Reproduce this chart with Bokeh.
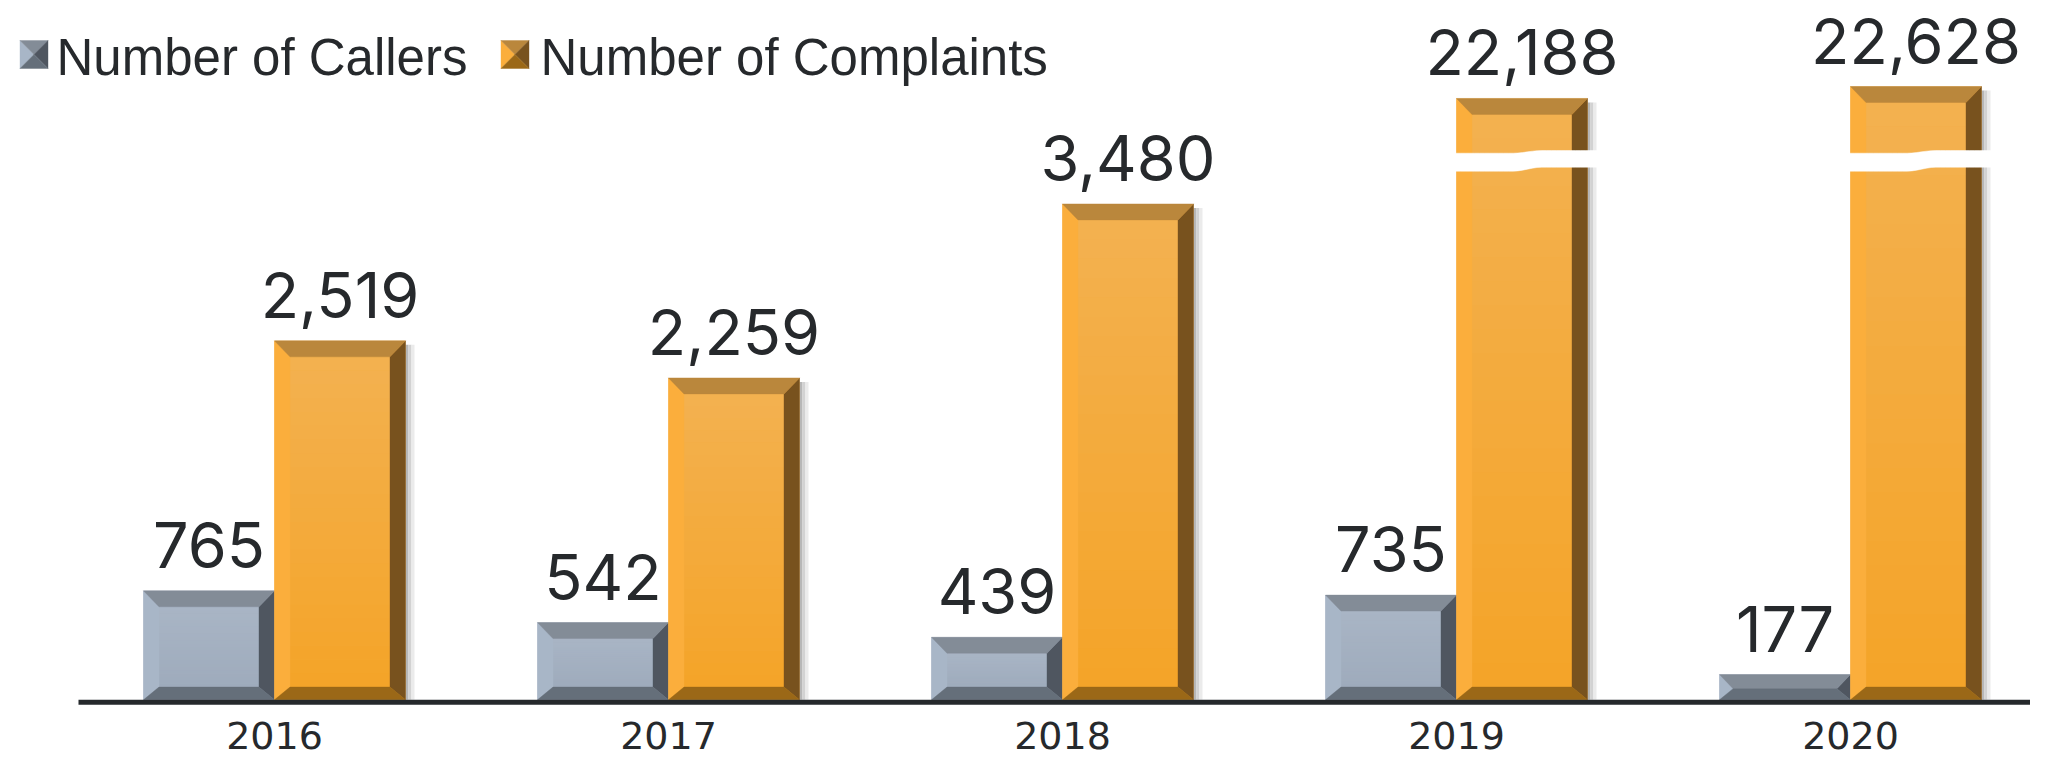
import numpy as np
from bokeh.plotting import figure
from bokeh.models import Range1d, ColumnDataSource, LabelSet
from bokeh.core.properties import value
from bokeh.embed import file_html
from bokeh.resources import INLINE

# ---------------- data ----------------
years = ["2016", "2017", "2018", "2019", "2020"]
callers = [765, 542, 439, 735, 177]
complaints = [2519, 2259, 3480, 22188, 22628]
series_names = ["Number of Callers", "Number of Complaints"]

# ---------------- layout constants (pixels) ----------------
FIG_W, FIG_H = 2030, 757
PX_PER_CAT = 394.0          # width of one year group
FIRST_CENTER_PX = 274.0     # pixel x of first group centre
PPU = 0.1425                # pixels per value unit
ZERO_PX = 699.3             # pixel y of the zero line
BAR_W = 131.0 / PX_PER_CAT  # bar width in category units

BREAK_THRESHOLD = 5000      # values above are drawn on a broken axis
UPPER_SCALE = 0.1902        # compression of the broken part

BX_PX, BT_PX, BB_PX = 15.5, 16.0, 12.7   # bevel sizes
TEXT_COLOR = "#26292c"

x_start = 0.5 - FIRST_CENTER_PX / PX_PER_CAT
x_end = x_start + FIG_W / PX_PER_CAT


def X(px):  # pixel -> data x
    return x_start + px / PX_PER_CAT


def Y(py):  # pixel -> data y
    return (ZERO_PX - py) / PPU


y_start, y_end = Y(FIG_H), Y(0)


def disp(v):
    return v if v <= BREAK_THRESHOLD else v * UPPER_SCALE


def hexrgb(h):
    h = h.lstrip("#")
    return tuple(int(h[i:i + 2], 16) for i in (0, 2, 4))


def mix(c1, c2, t):
    a, b = hexrgb(c1), hexrgb(c2)
    return "#%02x%02x%02x" % tuple(int(round(a[i] + (b[i] - a[i]) * t)) for i in range(3))


STYLES = {
    "callers": dict(top="#838c97", right="#4f5660", bottom="#656f7a", left="#a8b6c7",
                    face_top="#a9b5c5", face_bot="#9eabbc", shadow=False),
    "complaints": dict(top="#ba873c", right="#78521e", bottom="#9b6817", left="#fbae3c",
                       face_top="#f3b150", face_bot="#f4a428", shadow=True),
}

p = figure(width=FIG_W, height=FIG_H, output_backend="svg", toolbar_location=None, tools="",
           x_range=Range1d(x_start, x_end), y_range=Range1d(y_start, y_end),
           x_axis_location=None, y_axis_location=None,
           min_border_left=0, min_border_right=0, min_border_top=0, min_border_bottom=0)
p.outline_line_color = None
p.grid.visible = False
p.background_fill_color = "white"
p.border_fill_color = "white"


def draw_series(vals, offset, st):
    Ls, Rs, Ts = [], [], []
    for i, v in enumerate(vals):
        L = i + 0.5 + offset
        Ls.append(L); Rs.append(L + BAR_W); Ts.append(disp(v))

    if st["shadow"]:
        for k, col in enumerate(["#b7b7b7", "#d2d2d2", "#ebebeb"]):
            p.quad(left=[R + k * 3 / PX_PER_CAT for R in Rs],
                   right=[R + (k + 1) * 3 / PX_PER_CAT for R in Rs],
                   bottom=[0] * len(Rs), top=[T - 4 / PPU for T in Ts],
                   fill_color=col, line_color=None)

    p.quad(left=Ls, right=Rs, bottom=[0] * len(Ls), top=Ts,
           fill_color=mix(st["face_bot"], st["face_top"], 0.5), line_color=None)

    N = 24
    sl, sr, sb, stp, sc = [], [], [], [], []
    bev_xs, bev_ys, bev_c = [], [], []
    for L, R, T in zip(Ls, Rs, Ts):
        h_px = T * PPU
        bt, bb, bx = BT_PX, BB_PX, BX_PX
        if h_px < bt + bb:
            f = h_px / (bt + bb)
            bt, bb, bx = bt * f, bb * f, bx * f
        dx, dyt, dyb = bx / PX_PER_CAT, bt / PPU, bb / PPU
        fb, ft = dyb, T - dyt
        if ft > fb:
            edges = np.linspace(fb, ft, N + 1)
            for j in range(N):
                sl.append(L + dx); sr.append(R - dx)
                sb.append(edges[j]); stp.append(edges[j + 1] + 0.3 / PPU)
                sc.append(mix(st["face_bot"], st["face_top"], (j + 0.5) / N))
        bev_xs.append([L, L + dx, L + dx, L]); bev_ys.append([0, dyb, T - dyt, T]); bev_c.append(st["left"])
        bev_xs.append([R, R, R - dx, R - dx]); bev_ys.append([0, T, T - dyt, dyb]); bev_c.append(st["right"])
        bev_xs.append([L, R, R - dx, L + dx]); bev_ys.append([T, T, T - dyt, T - dyt]); bev_c.append(st["top"])
        bev_xs.append([L, R, R - dx, L + dx]); bev_ys.append([0, 0, dyb, dyb]); bev_c.append(st["bottom"])
    if sl:
        p.quad(left=sl, right=sr, bottom=sb, top=stp, fill_color=sc, line_color=None)
    p.patches(xs=bev_xs, ys=bev_ys, fill_color=bev_c, line_color=bev_c, line_width=0.4)
    return Ls, Rs, Ts


cL, cR, cT = draw_series(callers, -BAR_W, STYLES["callers"])
kL, kR, kT = draw_series(complaints, 0.0, STYLES["complaints"])

# axis-break bands (white wavy gap) on broken bars
for vals, Ls, Rs in ((callers, cL, cR), (complaints, kL, kR)):
    for v, L, R in zip(vals, Ls, Rs):
        if v <= BREAK_THRESHOLD:
            continue
        x_left = L - 1 / PX_PER_CAT
        x_right = R + 12 / PX_PER_CAT
        f = np.linspace(0, 1, 31)
        t = np.clip((f - 0.40) / 0.2, 0, 1)
        w = t * t * (3 - 2 * t)
        xs = x_left + (x_right - x_left) * f
        top_px = 152.7 + (150.0 - 152.7) * w
        bot_px = 170.7 + (166.7 - 170.7) * w
        ys_top = [Y(q) for q in top_px]
        ys_bot = [Y(q) for q in bot_px]
        p.patch(x=list(xs) + list(xs[::-1]), y=ys_top + ys_bot[::-1],
                fill_color="white", line_color="white", line_width=0.5)

# baseline (x axis line)
p.segment(x0=[X(78)], y0=[Y(701.7)], x1=[X(FIG_W)], y1=[Y(701.7)],
          line_color="#25292c", line_width=5, line_cap="butt")

# year labels
year_src = ColumnDataSource(dict(x=[i + 0.5 for i in range(len(years))],
                                 y=[Y(748)] * len(years), text=years))
p.add_layout(LabelSet(x="x", y="y", text="text", source=year_src,
                      text_align="center", text_baseline="alphabetic",
                      text_font=value("DejaVu Sans"), text_font_size=value("38px"),
                      text_color=TEXT_COLOR))

# value labels
lab_src = ColumnDataSource(dict(
    x=[(L + R) / 2 for L, R in zip(cL, cR)] + [(L + R) / 2 for L, R in zip(kL, kR)],
    y=cT + kT,
    text=[f"{v:,}" for v in callers] + [f"{v:,}" for v in complaints],
))
p.add_layout(LabelSet(x="x", y="y", text="text", source=lab_src, y_offset=23,
                      text_align="center", text_baseline="alphabetic",
                      text_font=value("Inter"), text_font_size=value("63px"),
                      text_color=TEXT_COLOR))

# legend (manual, pyramid markers)
legend_marker_px = [(19.5, 40.0), (500.5, 40.0)]
legend_text_px = [(56.0, 74.0), (540.0, 74.0)]
MS = 28.0
for (mx, my), key in zip(legend_marker_px, ["callers", "complaints"]):
    st = STYLES[key]
    x0, x1, xc = X(mx), X(mx + MS), X(mx + MS / 2)
    y0, y1, yc = Y(my + MS), Y(my), Y(my + MS / 2)
    cols = [st["left"], st["top"], st["right"], st["bottom"]]
    p.patches(xs=[[x0, xc, x0], [x0, x1, xc], [x1, x1, xc], [x0, x1, xc]],
              ys=[[y0, yc, y1], [y1, y1, yc], [y1, y0, yc], [y0, y0, yc]],
              fill_color=cols, line_color=cols, line_width=0.4)
leg_src = ColumnDataSource(dict(x=[X(tx) for tx, ty in legend_text_px],
                                y=[Y(ty) for tx, ty in legend_text_px], text=series_names))
p.add_layout(LabelSet(x="x", y="y", text="text", source=leg_src,
                      text_align="left", text_baseline="alphabetic",
                      text_font=value("Liberation Sans"), text_font_size=value("51px"),
                      text_color=TEXT_COLOR))

open("out.html", "w").write(file_html(p, INLINE))
